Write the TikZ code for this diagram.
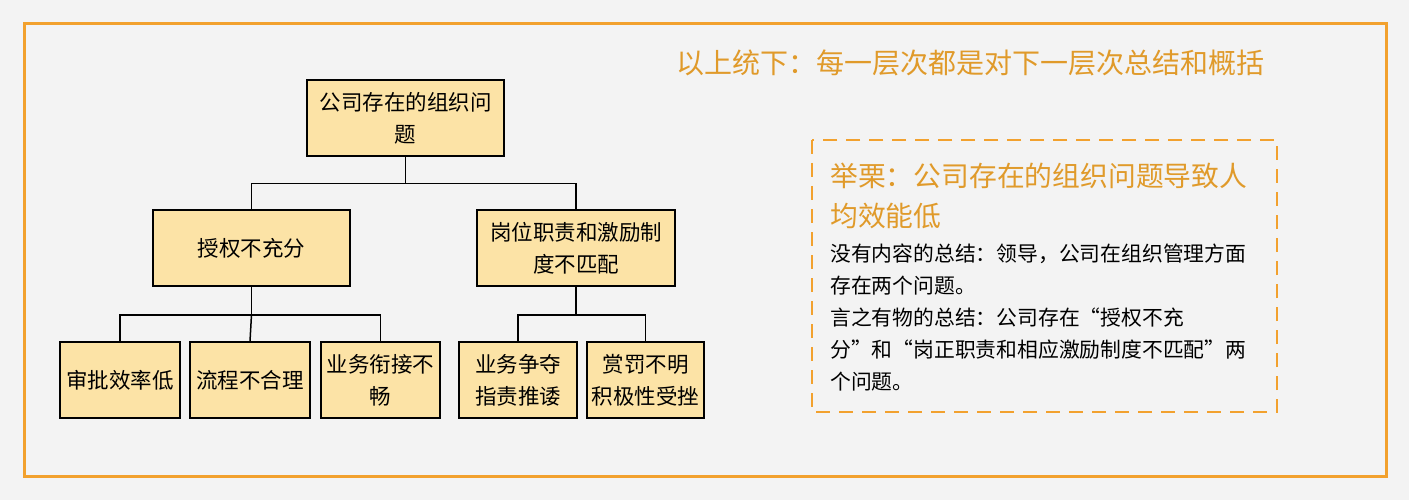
\documentclass[tikz,border=0pt]{standalone}
\usepackage{fontspec}
\setmainfont{Noto Sans CJK SC}
\begin{document}
\begin{tikzpicture}[x=1pt,y=-1pt,
  bx/.style={draw=black,line width=1.5pt,fill=boxc,align=center,font=\fontsize{21.5}{32}\selectfont,inner sep=0pt},
  ln/.style={draw=black,line width=1.5pt}]
\definecolor{boxc}{HTML}{FCE3A6}
\definecolor{org}{HTML}{F2A12E}
\definecolor{otext}{HTML}{E09A2A}
\definecolor{bg}{HTML}{F3F3F3}
\useasboundingbox (0,0) rectangle (1409,500);
\fill[bg] (0,0) rectangle (1409,500);
\draw[org,line width=3pt] (24,24) rectangle (1386,476);
\node[bx,minimum width=197pt,minimum height=76pt] (top) at (405.5,118) {公司存在的组织问\\题};
\node[bx,minimum width=197pt,minimum height=76pt] (l) at (251.5,248) {授权不充分};
\node[bx,minimum width=198pt,minimum height=76pt] (r) at (576,248) {岗位职责和激励制\\度不匹配};
\node[bx,minimum width=120pt,minimum height=76pt] (b1) at (120,380) {审批效率低};
\node[bx,minimum width=120pt,minimum height=76pt] (b2) at (250,380) {流程不合理};
\node[bx,minimum width=119pt,minimum height=76pt] (b3) at (380.5,380) {业务衔接不\\畅};
\node[bx,minimum width=118pt,minimum height=76pt] (b4) at (518,380) {业务争夺\\指责推诿};
\node[bx,minimum width=117pt,minimum height=76pt] (b5) at (645.5,380) {赏罚不明\\积极性受挫};
\draw[ln] (top.south) -- ++(0,27) coordinate (j1);
\draw[ln] (l.north) |- (j1) -| (r.north);
\draw[ln] (l.south) -- ++(0,28) coordinate (j2);
\draw[ln] (b1.north) |- (j2) -| (b3.north);
\draw[ln] (j2) -- (b2.north);
\draw[ln] (r.south) -- ++(0,28) coordinate (j3);
\draw[ln] (b4.north) |- (j3) -| (b5.north);
\node[text=otext,font=\fontsize{28}{34}\selectfont] (title) at (970,63) {以上统下：每一层次都是对下一层次总结和概括};
\draw[org,line width=2.5pt,dash pattern=on 14pt off 9pt] (812,140) rectangle (1277,412);
\node[anchor=north west,text=otext,align=left,font=\fontsize{27.8}{40}\selectfont,inner sep=0pt] (ex) at (830,163) {举栗：公司存在的组织问题导致人\\均效能低};
\node[anchor=north west,align=left,font=\fontsize{20.8}{31.8}\selectfont,inner sep=0pt] (desc) at (830,244) {没有内容的总结：领导，公司在组织管理方面\\存在两个问题。\\言之有物的总结：公司存在“授权不充\\分”和“岗正职责和相应激励制度不匹配”两\\个问题。};
\end{tikzpicture}
\end{document}
